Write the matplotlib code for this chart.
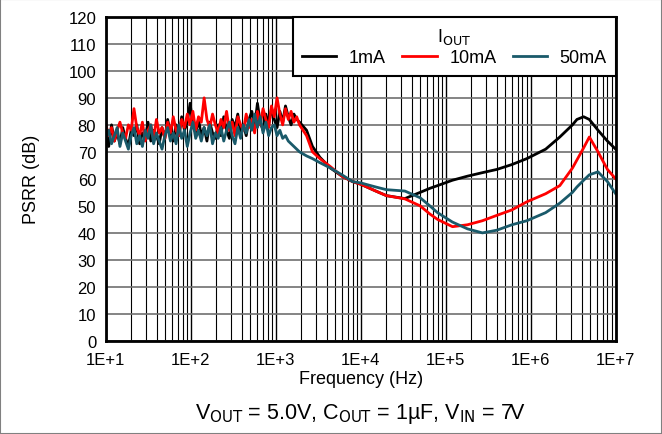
import numpy as np
import matplotlib.pyplot as plt
from matplotlib.ticker import LogLocator, NullFormatter, FixedLocator

plt.rcParams['font.family'] = ['Liberation Sans', 'DejaVu Sans']

# noisy low-frequency part (10 Hz .. 1.9 kHz)
noise_freq = np.geomspace(10, 1900, 70)
noise_1mA = [78, 72, 80, 74, 77, 73, 79, 75, 72, 78,
             76, 80, 73, 77, 75, 81, 74, 78, 76, 73,
             79, 75, 82, 77, 74, 80, 76, 83, 78, 81,
             88, 80, 77, 82, 76, 79, 74, 81, 77, 75,
             80, 76, 83, 78, 75, 82, 79, 84, 77, 80,
             76, 82, 85, 79, 88, 81, 78, 84, 80, 86,
             82, 79, 85, 81, 87, 83, 80, 84, 82, 81]
noise_10mA = [80, 76, 79, 74, 78, 81, 77, 75, 80, 78,
              86, 79, 76, 81, 74, 78, 80, 75, 82, 77,
              79, 75, 81, 77, 83, 78, 76, 82, 79, 84,
              80, 85, 78, 83, 81, 90, 82, 79, 84, 80,
              77, 82, 79, 85, 78, 81, 76, 83, 80, 78,
              84, 79, 82, 77, 85, 80, 86, 82, 79, 87,
              83, 90, 84, 80, 86, 82, 85, 81, 83, 80]
noise_50mA = [75, 78, 73, 76, 79, 72, 77, 74, 71, 76,
              79, 73, 76, 72, 78, 75, 80, 73, 77, 74,
              71, 76, 79, 74, 77, 73, 80, 75, 78, 72,
              77, 81, 75, 78, 74, 79, 76, 80, 73, 77,
              75, 79, 74, 78, 81, 76, 73, 79, 75, 80,
              77, 82, 78, 84, 79, 83, 77, 81, 76, 79,
              80, 76, 78, 75, 76, 74, 73, 72, 71, 70]

# smooth part (2.3 kHz .. 10 MHz)
smooth_freq = [2.3e3, 2.7e3, 3.3e3, 4.4e3, 6e3, 8e3, 1e4, 1.5e4, 2e4, 3.3e4, 5e4, 6.5e4,
               8e4, 1.2e5, 1.8e5, 2.7e5, 4e5, 6e5, 9e5, 1.5e6, 2.2e6, 3.1e6, 3.5e6, 4.2e6,
               4.9e6, 6.2e6, 8e6, 1e7]
smooth_1mA = [78, 72, 68, 64, 61, 59, 58, 55.5, 53.8, 52.7, 55, 56.5,
              57.5, 59.5, 61, 62.3, 63.5, 65.3, 67.5, 71, 75.5, 80, 82, 83,
              82, 78, 74, 71]
smooth_10mA = [76, 70, 67.5, 64.5, 61, 59, 58, 55.5, 53.8, 52.6, 50, 47,
               45, 42.3, 43, 44.5, 46.5, 48.5, 51.5, 54.5, 57.5, 64, 67, 71.5,
               75.5, 70, 63.5, 60]
smooth_50mA = [68.5, 67.5, 66, 64, 61.5, 59, 58.5, 57, 56, 55.5, 53, 50,
               47.5, 44, 41.5, 40, 41, 43, 44.5, 47.5, 51, 55, 57, 59.5,
               61.5, 62.6, 59, 54.5]

labels = ['1mA', '10mA', '50mA']
colors = ['black', 'red', '#1a5a6a']

fig = plt.figure(figsize=(6.62, 4.35), dpi=100)
ax = fig.add_axes([0.160, 0.214, 0.770, 0.745])

freq = list(noise_freq) + smooth_freq
series = [noise_1mA + smooth_1mA, noise_10mA + smooth_10mA, noise_50mA + smooth_50mA]
for vals, lab, c in zip(series, labels, colors):
    ax.plot(freq, vals, color=c, lw=2, label=lab)

ax.set_xscale('log')
ax.set_xlim(10, 1e7)
ax.set_ylim(0, 120)
ax.set_yticks(range(0, 121, 10))
ax.xaxis.set_major_locator(FixedLocator([10 ** k for k in range(1, 8)]))
ax.set_xticklabels(['1E+%d' % k for k in range(1, 8)])
ax.xaxis.set_minor_locator(LogLocator(base=10, subs=np.arange(2, 10), numticks=100))
ax.xaxis.set_minor_formatter(NullFormatter())

ax.grid(True, which='major', axis='x', color='black', lw=1)
ax.grid(True, which='minor', axis='x', color='black', lw=0.8)
ax.grid(True, which='major', axis='y', color='#707070', lw=1.2)
ax.tick_params(axis='both', which='both', direction='in', labelsize=12, length=0)
ax.tick_params(axis='x', pad=8)
ax.tick_params(axis='y', pad=7)
for s in ax.spines.values():
    s.set_linewidth(2)

ax.set_xlabel('Frequency (Hz)', fontsize=13, labelpad=2)
ax.set_ylabel('PSRR (dB)', fontsize=13)
ax.yaxis.set_label_coords(-0.129, 0.5)

leg = ax.legend(loc='upper right', ncol=3, title='I$_{\\mathrm{OUT}}$', fontsize=13,
                title_fontsize=13, fancybox=False, framealpha=1, edgecolor='black',
                borderaxespad=0, handlelength=1.9, columnspacing=0.9, handletextpad=0.7,
                borderpad=0.5, labelspacing=0.2)
leg.get_frame().set_linewidth(1.5)

fig.text(0.544, 0.048, 'V$_{\\mathrm{OUT}}$ = 5.0V, C$_{\\mathrm{OUT}}$ = 1µF, V$_{\\mathrm{IN}}$ = 7V',
         ha='center', va='center', fontsize=15.5)

fig.patches.append(plt.Rectangle((0, 0), 1, 1, transform=fig.transFigure, fill=False,
                                 edgecolor='#808080', lw=1.5))

fig.savefig('out.png', dpi=100)
